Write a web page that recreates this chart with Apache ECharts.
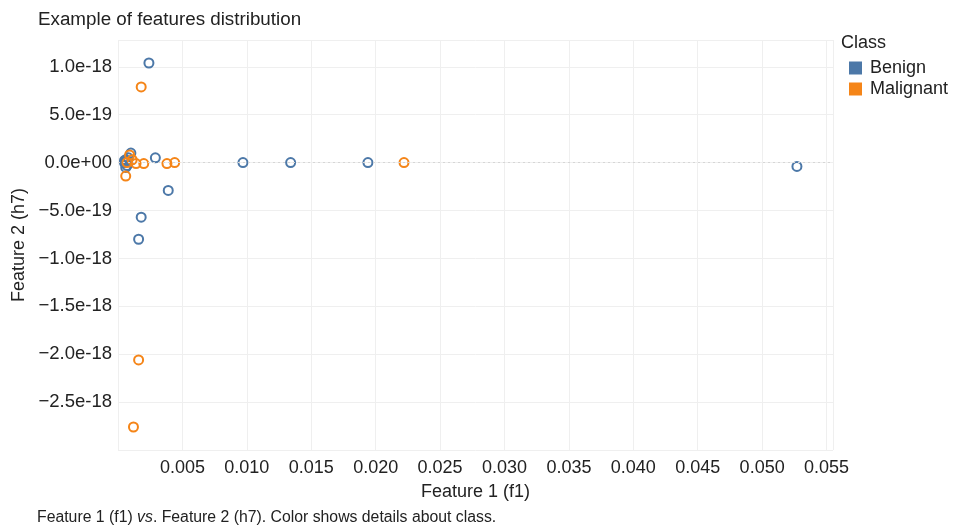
<!DOCTYPE html>
<html>
<head>
<meta charset="utf-8">
<script src="https://cdn.jsdelivr.net/npm/echarts@6/dist/echarts.min.js"></script>
<style>
  html, body { margin: 0; padding: 0; background: #fff; }
  #main { width: 954px; height: 527px; }
</style>
</head>
<body>
<div id="main"></div>
<script>
// values
var benignF1 = [0.0024, 0.0010, 0.0005, 0.0006, 0.0007, 0.0008, 0.0006, 0.0005, 0.0007, 0.0029, 0.0039, 0.0018, 0.0016, 0.0097, 0.0134, 0.0194, 0.0527];
var benignH7 = [1.04e-18, 0.10e-18, 0.0, 0.03e-18, -0.03e-18, 0.05e-18, -0.05e-18, 0.02e-18, 0.01e-18, 0.05e-18, -0.29e-18, -0.57e-18, -0.80e-18, 0.0, 0.0, 0.0, -0.04e-18];

var malignantF1 = [0.0018, 0.0016, 0.0012, 0.0006, 0.0009, 0.0011, 0.0014, 0.0020, 0.0038, 0.0044, 0.0222, 0.0007];
var malignantH7 = [0.79e-18, -2.06e-18, -2.76e-18, -0.14e-18, 0.08e-18, 0.03e-18, -0.01e-18, -0.01e-18, -0.01e-18, 0.0, 0.0, 0.0];

var classNames = ['Benign', 'Malignant'];
var classColors = ['#4c78a8', '#f58518'];

// y values are tiny, so the axis works in units of 1e-18
var Y_UNIT = 1e-18;

function toPoints(xs, ys) {
  var out = [];
  for (var i = 0; i < xs.length; i++) {
    out.push([xs[i], ys[i] / Y_UNIT]);
  }
  return out;
}

function yLabel(v) {
  if (v < -2.75) return '';
  if (Math.abs(v / 0.5 - Math.round(v / 0.5)) > 1e-6) return '';
  if (Math.abs(v) < 1e-9) return '0.0e+00';
  var s = Math.abs(v * Y_UNIT).toExponential(1);
  return (v < 0 ? '\u2212' : '') + s;
}

var textColor = '#222';
var gridColor = '#efefef';

function pointSeries(name, color, data, extra) {
  var s = {
    name: name,
    type: 'scatter',
    symbol: 'circle',
    symbolSize: 9,
    itemStyle: {
      color: 'rgba(255,255,255,0)',
      borderColor: color,
      borderWidth: 2,
      opacity: 1
    },
    emphasis: { disabled: true },
    data: data
  };
  if (extra) {
    for (var k in extra) s[k] = extra[k];
  }
  return s;
}

var option = {
  animation: false,
  title: [
    {
      text: 'Example of features distribution',
      left: 38,
      top: 10,
      padding: 0,
      textStyle: { fontFamily: 'Liberation Sans', fontSize: 18.8, fontWeight: 'normal', color: textColor }
    },
    {
      text: 'Class',
      left: 841,
      top: 34,
      padding: 0,
      textStyle: { fontFamily: 'Liberation Sans', fontSize: 18, fontWeight: 'normal', color: textColor }
    },
    {
      text: 'Feature 1 (f1) {i|vs}. Feature 2 (h7). Color shows details about class.',
      left: 37,
      top: 510,
      padding: 0,
      textStyle: {
        fontFamily: 'Liberation Sans', fontSize: 15.8, fontWeight: 'normal', color: textColor,
        rich: { i: { fontFamily: 'Liberation Sans', fontSize: 15.8, fontStyle: 'italic', color: textColor } }
      }
    }
  ],
  legend: {
    orient: 'vertical',
    left: 849,
    top: 59,
    padding: 0,
    itemWidth: 13,
    itemHeight: 13,
    itemGap: 3,
    data: [
      { name: classNames[0], icon: 'rect', itemStyle: { color: classColors[0], borderWidth: 0, opacity: 1 } },
      { name: classNames[1], icon: 'rect', itemStyle: { color: classColors[1], borderWidth: 0, opacity: 1 } }
    ],
    textStyle: { fontFamily: 'Liberation Sans', fontSize: 18, color: textColor, padding: [0, 0, 0, 3] }
  },
  grid: {
    left: 118,
    right: 121,
    top: 40,
    bottom: 77
  },
  xAxis: {
    type: 'value',
    min: 0,
    max: 0.0555,
    interval: 0.005,
    name: 'Feature 1 (f1)',
    nameLocation: 'middle',
    nameGap: 33,
    nameTextStyle: { fontFamily: 'Liberation Sans', fontSize: 18, color: textColor },
    axisLine: { show: false },
    axisTick: { show: false },
    axisLabel: {
      margin: 9,
      fontFamily: 'Liberation Sans',
      fontSize: 18,
      color: textColor,
      showMaxLabel: false,
      formatter: function (v) {
        if (v < 1e-9) return '';
        if (Math.abs(v / 0.005 - Math.round(v / 0.005)) > 1e-6) return '';
        return v.toFixed(3);
      }
    },
    splitLine: { show: true, lineStyle: { color: gridColor, width: 1 } }
  },
  yAxis: {
    type: 'value',
    min: -3.0,
    max: 1.28,
    interval: 0.5,
    name: 'Feature 2 (h7)',
    nameLocation: 'middle',
    nameGap: 88,
    nameTextStyle: { fontFamily: 'Liberation Sans', fontSize: 18, color: textColor },
    axisLine: { show: false },
    axisTick: { show: false },
    axisLabel: {
      margin: 6,
      fontFamily: 'Liberation Sans',
      fontSize: 18.5,
      color: textColor,
      formatter: yLabel
    },
    splitLine: { show: true, lineStyle: { color: gridColor, width: 1 } }
  },
  series: [
    pointSeries(classNames[0], classColors[0], toPoints(benignF1, benignH7), {
      markLine: {
        silent: true,
        symbol: ['none', 'none'],
        label: { show: false },
        lineStyle: { color: '#d6d6d6', type: [2, 3], width: 1 },
        data: [{ yAxis: 0 }]
      }
    }),
    pointSeries(classNames[1], classColors[1], toPoints(malignantF1, malignantH7))
  ]
};

var chart = echarts.init(document.getElementById('main'));
chart.setOption(option);
</script>
</body>
</html>
